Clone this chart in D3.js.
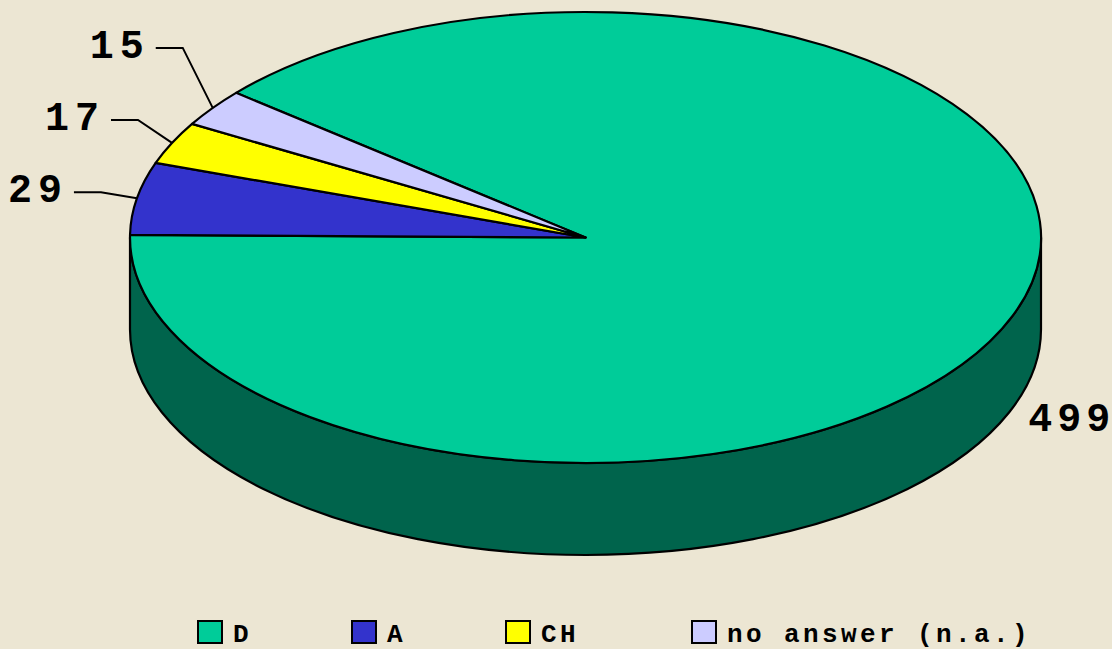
<!DOCTYPE html>
<html>
<head>
<meta charset="utf-8">
<script src="https://cdnjs.cloudflare.com/ajax/libs/d3/7.8.5/d3.min.js"></script>
<style>
  body { margin: 0; background: #ECE6D3; }
  svg { display: block; }
  text { font-family: "Liberation Mono", "Courier New", monospace; font-weight: bold; fill: #000; }
</style>
</head>
<body>
<script>
// data
var categories = ["D", "A", "CH", "no answer (n.a.)"];
var values = [499, 29, 17, 15];
var colors = ["#00CC99", "#3333CC", "#FFFF00", "#CCCCFF"];
var sideColor = "#00644C";

var w = 1112;
var h = 649;
var cx = 585.5, cy = 237.5;   // centre of the top face
var rx = 455.5, ry = 225.5;   // radii of the top face
var depth = 92;               // thickness of the disc

var total = d3.sum(values);
// last three slices sit just above 9 o'clock, D wraps around the rest
var endA = -Math.PI / 2 + 0.012;
var startA = endA - 2 * Math.PI * values[0] / total;

var pie = d3.pie()
            .sort(null)
            .startAngle(startA)
            .endAngle(startA + 2 * Math.PI);
var arcs = pie(values);

var arc = d3.arc()
            .innerRadius(0)
            .outerRadius(rx);

var svg = d3.select("body")
            .append("svg")
            .attr("width", w)
            .attr("height", h);

// point on the (squashed) top rim for a pie angle
function rim(a, k) {
    k = k || 1;
    return [cx + k * rx * Math.sin(a), cy - k * ry * Math.cos(a)];
}

// front wall (only D is in front)
svg.append("path")
   .attr("d", "M" + (cx + rx) + "," + cy +
              " A" + rx + "," + ry + " 0 0 1 " + (cx - rx) + "," + cy +
              " L" + (cx - rx) + "," + (cy + depth) +
              " A" + rx + "," + ry + " 0 0 0 " + (cx + rx) + "," + (cy + depth) + " Z")
   .style("fill", sideColor)
   .style("stroke", "#000")
   .style("stroke-width", 2.2)
   .style("stroke-linejoin", "round");

// top face
svg.append("g")
   .attr("transform", "translate(" + cx + "," + cy + ") scale(1," + (ry / rx) + ")")
   .selectAll("path")
   .data(arcs)
   .enter()
   .append("path")
   .attr("d", arc)
   .attr("vector-effect", "non-scaling-stroke")
   .style("fill", function (d, i) { return colors[i]; })
   .style("stroke", "#000")
   .style("stroke-width", 2.2)
   .style("stroke-linejoin", "round");

// data labels
var labelNudge = [null, [-36, -6], [-34, -23], [-30, -60]]; // elbow offsets for small slices
var labels = svg.append("g");
arcs.forEach(function (d, i) {
    var mid = (d.startAngle + d.endAngle) / 2;
    if (i === 0) {
        var p = rim(mid, 1.13);
        labels.append("text")
              .attr("x", p[0] + 1)
              .attr("y", p[1] + depth + 13)
              .attr("dx", "0 5 5")
              .attr("text-anchor", "middle")
              .style("font-size", "40px")
              .text(values[i]);
        return;
    }
    var e = rim(mid);
    var elbow = [e[0] + labelNudge[i][0], e[1] + labelNudge[i][1]];
    var end = [elbow[0] - 27, elbow[1]];
    labels.append("path")
          .attr("d", "M" + e[0] + "," + e[1] + "L" + elbow[0] + "," + elbow[1] + "L" + end[0] + "," + end[1])
          .style("fill", "none")
          .style("stroke", "#000")
          .style("stroke-width", 2);
    labels.append("text")
          .attr("x", end[0] - 6)
          .attr("y", end[1] + 10)
          .attr("text-anchor", "end")
          .style("font-size", "40px")
          .style("letter-spacing", "6px")
          .text(values[i]);
});

// legend
var legendX = [0, 154, 308, 494];
var legend = svg.append("g").attr("transform", "translate(198,621)");
categories.forEach(function (c, i) {
    var item = legend.append("g").attr("transform", "translate(" + legendX[i] + ",0)");
    item.append("rect")
        .attr("width", 24)
        .attr("height", 22)
        .style("fill", colors[i])
        .style("stroke", "#000")
        .style("stroke-width", 2);
    item.append("text")
        .attr("x", 35)
        .attr("y", 21)
        .style("font-size", "26px")
        .style("letter-spacing", "3.4px")
        .text(c);
});
</script>
</body>
</html>
